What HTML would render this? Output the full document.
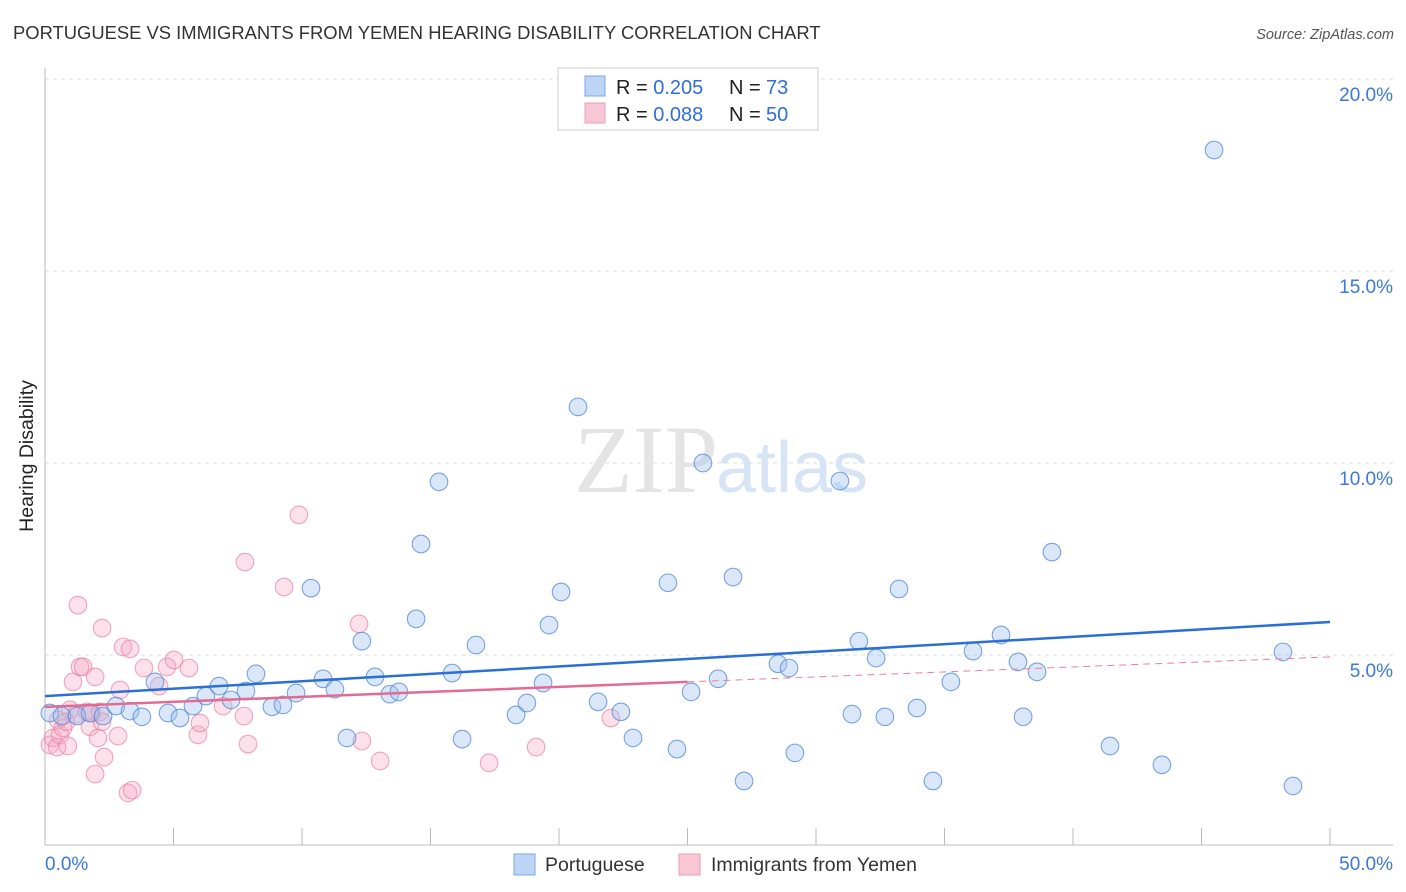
<!DOCTYPE html>
<html><head><meta charset="utf-8"><style>
body{margin:0;background:#fff;font-family:"Liberation Sans",sans-serif}
svg{display:block}
</style></head><body>
<svg id="c" width="1406" height="892">
<text x="13" y="39" font-size="18.4" fill="#333">PORTUGUESE VS IMMIGRANTS FROM YEMEN HEARING DISABILITY CORRELATION CHART</text>
<text x="1394" y="39" font-size="14.5" fill="#555" font-style="italic" text-anchor="end">Source: ZipAtlas.com</text>
<text x="33" y="456" font-size="19.5" fill="#222" transform="rotate(-90 33 456)" text-anchor="middle">Hearing Disability</text>
<g id="grid"></g>
<text x="718" y="492" font-size="96" fill="#e4e4e4" text-anchor="end" font-family="Liberation Serif">ZIP</text>
<text x="716" y="492" font-size="72" fill="#d6e4f6">atlas</text>
<g id="marks"></g>
<g>
<rect x="558" y="68" width="260" height="62" fill="#fff" stroke="#ccc"/>
<rect x="585" y="76" width="20" height="20" fill="#bcd5f5" stroke="#7aa7e3"/>
<rect x="585" y="103" width="20" height="20" fill="#f9c6d6" stroke="#eb9db6"/>
<text x="616" y="94" font-size="20" fill="#222">R = <tspan fill="#2f6fd6">0.205</tspan></text>
<text x="729" y="94" font-size="20" fill="#222">N = <tspan x="766" fill="#2f6fd6">73</tspan></text>
<text x="616" y="121" font-size="20" fill="#222">R = <tspan fill="#2f6fd6">0.088</tspan></text>
<text x="729" y="121" font-size="20" fill="#222">N = <tspan x="766" fill="#2f6fd6">50</tspan></text>
</g>
<g>
<rect x="514" y="854" width="21" height="21" fill="#bcd5f5" stroke="#7aa7e3"/>
<text x="545" y="871" font-size="19.5" fill="#333">Portuguese</text>
<rect x="679" y="854" width="21" height="21" fill="#f9c6d6" stroke="#eb9db6"/>
<text x="711" y="871" font-size="19.5" fill="#333">Immigrants from Yemen</text>
</g>
</svg>
<script>
const blueX=[0.19,0.66,1.25,1.75,2.26,2.76,3.31,3.77,4.28,4.79,5.25,5.76,6.26,6.77,7.24,7.82,8.21,8.83,9.26,9.77,10.35,10.82,11.28,11.75,12.33,12.84,13.42,13.77,14.44,14.63,15.33,15.84,16.23,16.77,18.33,18.75,19.38,19.61,20.08,20.74,21.52,22.41,22.88,24.24,24.59,25.14,25.60,26.19,26.77,27.20,28.52,28.95,29.18,30.93,31.40,31.67,32.34,32.68,33.23,33.93,34.55,35.25,36.11,37.20,37.86,38.06,38.60,39.18,41.44,43.46,45.49,48.17,48.56];
const blueY=[3.49,3.41,3.41,3.49,3.41,3.67,3.54,3.39,4.30,3.49,3.36,3.67,3.93,4.19,3.83,4.06,4.51,3.65,3.70,4.01,6.74,4.38,4.11,2.84,5.36,4.43,3.98,4.04,5.94,7.89,9.51,4.53,2.81,5.26,3.44,3.75,4.27,5.78,6.64,11.46,3.78,3.52,2.84,6.88,2.55,4.04,10.00,4.38,7.03,1.72,4.77,4.66,2.45,9.53,3.46,5.36,4.92,3.39,6.72,3.62,1.72,4.30,5.10,5.52,4.82,3.39,4.56,7.68,2.63,2.14,18.15,5.08,1.59];
const pinkX=[0.19,0.31,0.47,0.51,0.58,0.70,0.82,0.89,0.97,1.09,1.21,1.28,1.36,1.48,1.63,1.75,1.83,1.95,1.95,2.06,2.14,2.22,2.30,2.22,2.84,2.92,3.04,3.23,3.31,3.39,3.85,4.44,4.75,5.02,5.60,5.95,6.03,6.93,7.78,7.74,7.90,9.30,9.88,12.22,12.33,13.04,17.28,19.11,22.02];
const pinkY=[2.66,2.84,2.60,3.31,2.92,3.10,3.26,2.63,3.57,4.30,3.46,6.30,4.69,4.69,3.52,3.13,3.49,4.43,1.90,2.84,3.52,3.26,2.34,5.70,2.89,4.09,5.21,1.41,5.16,1.48,4.66,4.19,4.69,4.87,4.66,2.92,3.23,3.67,7.42,3.41,2.68,6.77,8.65,5.81,2.76,2.24,2.19,2.60,3.36];
const blueTrend=[3.93,5.86];
const pinkTrend=[3.65,4.95];
const pinkSolidEnd=25;
const yTicks=[5,10,15,20];
const xTickLabels=["0.0%","50.0%"];
const NS="http://www.w3.org/2000/svg";
const X=v=>45+v*(1285/50);
const Y=v=>847-v*38.4;
function mk(tag,attrs,parent){const e=document.createElementNS(NS,tag);for(const k in attrs)e.setAttribute(k,attrs[k]);parent.appendChild(e);return e;}
const grid=document.getElementById('grid'),marks=document.getElementById('marks');
yTicks.forEach(t=>{
 const l=mk('line',{x1:45,x2:1393,y1:Y(t),y2:Y(t),stroke:'#ddd','stroke-dasharray':'4,4'},grid);
 
 
 const tx=mk('text',{x:1393,y:Y(t)+22,'font-size':19,fill:'#3b78d8','text-anchor':'end'},grid);
 tx.textContent=t.toFixed(1)+'%';
 
 
});
const ax=mk('line',{x1:45,x2:45,y1:68,y2:845,stroke:'#bbb'},grid);


const bx=mk('line',{x1:45,x2:1393,y1:845,y2:845,stroke:'#bbb'},grid);


for(let i=1;i<=10;i++){const t=mk('line',{x1:X(i*5),x2:X(i*5),y1:828,y2:845,stroke:'#bbb'},grid);
 
 }
[[0,45,'start'],[50,1393,'end']].forEach((d,i)=>{const t=mk('text',{x:d[1],y:870,'font-size':19,fill:'#3b78d8','text-anchor':d[2]},grid);t.textContent=xTickLabels[i];
 
 });
pinkX.forEach((x,i)=>{const c=mk('circle',{cx:X(x),cy:Y(pinkY[i]),r:8.8,fill:'rgba(246,170,196,0.35)',stroke:'rgba(232,130,165,0.7)','stroke-width':1.1},marks);
 
 });
blueX.forEach((x,i)=>{const c=mk('circle',{cx:X(x),cy:Y(blueY[i]),r:8.8,fill:'rgba(160,195,240,0.4)',stroke:'rgba(80,135,215,0.75)','stroke-width':1.1},marks);
 
 });
const pAt=v=>pinkTrend[0]+(pinkTrend[1]-pinkTrend[0])*v/50;
const pd=mk('line',{x1:X(pinkSolidEnd),y1:Y(pAt(pinkSolidEnd)),x2:X(50),y2:Y(pinkTrend[1]),stroke:'#e77fa2','stroke-width':1,'stroke-dasharray':'7,5'},marks);


const ps=mk('line',{x1:X(0),y1:Y(pinkTrend[0]),x2:X(pinkSolidEnd),y2:Y(pAt(pinkSolidEnd)),stroke:'#e46a94','stroke-width':2.5},marks);


const bl=mk('line',{x1:X(0),y1:Y(blueTrend[0]),x2:X(50),y2:Y(blueTrend[1]),stroke:'#2a6fd6','stroke-width':2.5},marks);


</script>
</body></html>
